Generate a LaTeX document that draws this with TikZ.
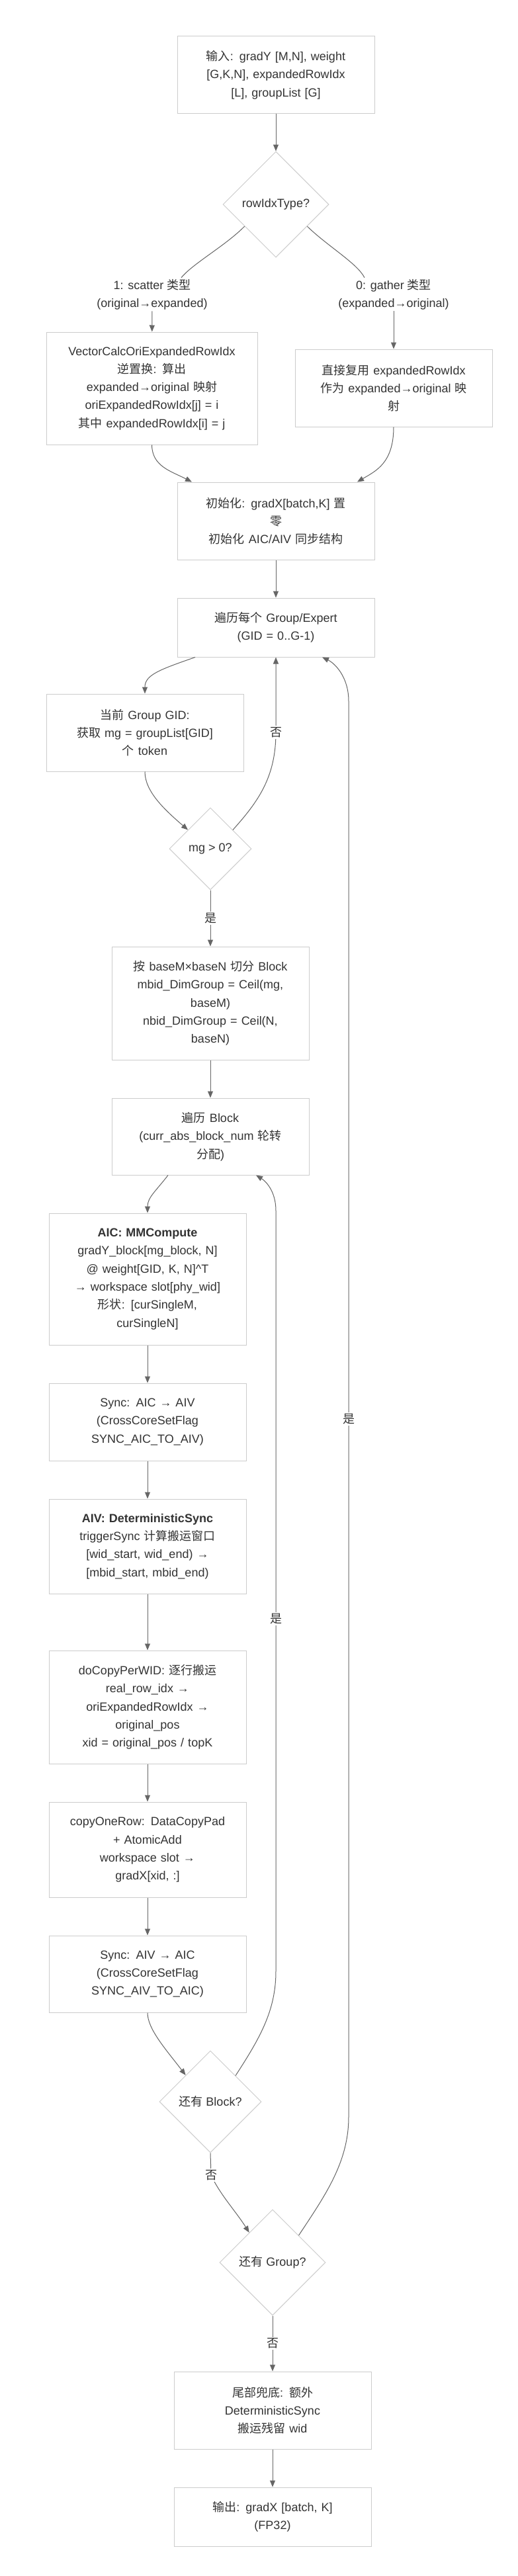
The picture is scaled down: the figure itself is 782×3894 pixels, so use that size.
\documentclass[tikz,border=0pt]{standalone}
\usepackage{fontspec}
\setmainfont{Liberation Sans}
\newfontfamily\cjk{Noto Sans CJK SC}
\usetikzlibrary{positioning, shapes.geometric, arrows.meta}
\definecolor{boxline}{HTML}{CCCCCC}
\definecolor{edgegray}{HTML}{666666}
\definecolor{txt}{HTML}{333333}

\begin{document}
\begin{tikzpicture}[x=1pt, y=-1pt, node distance=57pt, >={Triangle[length=10pt, width=8pt]},
    every node/.style={font=\fontsize{18}{27.3}\selectfont, text=txt}]
    \tikzstyle{box} = [rectangle, draw=boxline, fill=white, line width=1pt, minimum width=298pt, text width=290pt, align=center, inner sep=0pt]
    \tikzstyle{decision} = [diamond, draw=boxline, fill=white, line width=1pt, aspect=1, inner sep=0pt, align=center]
    \tikzstyle{lbl} = [fill=white, inner sep=2pt, align=center]
    \tikzstyle{arrow} = [->, draw=edgegray, line width=1pt]
    \tikzstyle{link} = [draw=edgegray, line width=1pt]

    \fill [white] (0,0) rectangle (782,3894);
    \useasboundingbox (0,0) rectangle (782,3894);

    \node (input) [box, minimum height=116pt] at (417,113) {{\cjk 输入}: gradY [M,N], weight\\{}[G,K,N], expandedRowIdx\\{}[L], groupList [G]};
    \node (rowtype) [decision, minimum size=160pt, below=of input] {rowIdxType?};

    % the two index types
    \node (lscatter) [lbl] at (230,445) {1: scatter {\cjk 类型}\\(original→expanded)};
    \node (lgather) [lbl] at (595,445) {0: gather {\cjk 类型}\\(expanded→original)};
    \node (scatter) [box, minimum width=319pt, minimum height=170pt] at (229.5,587) {VectorCalcOriExpandedRowIdx\\{\cjk 逆置换}: {\cjk 算出}\\expanded→original {\cjk 映射}\\oriExpandedRowIdx[j] = i\\{\cjk 其中} expandedRowIdx[i] = j};
    \node (gather) [box, minimum height=117pt] at (595,586.5) {{\cjk 直接复用} expandedRowIdx\\{\cjk 作为} expanded→original {\cjk 映}\\{\cjk 射}};

    \node (init) [box, minimum height=117pt] at (417,787.5) {{\cjk 初始化}: gradX[batch,K] {\cjk 置}\\{\cjk 零}\\{\cjk 初始化} AIC/AIV {\cjk 同步结构}};
    \node (grouploop) [box, minimum height=89pt, below=of init] {{\cjk 遍历每个} Group/Expert\\(GID = 0..G-1)};
    \node (curgroup) [box, minimum height=117pt] at (219,1107.5) {{\cjk 当前} Group GID:\\{\cjk 获取} mg = groupList[GID]\\{\cjk 个} token};
    \node (mgpos) [decision, minimum size=124pt] at (318,1283) {mg > 0?};
    \node (split) [box, minimum height=171pt, below=85pt of mgpos] {{\cjk 按} baseM×baseN {\cjk 切分} Block\\mbid\_DimGroup = Ceil(mg,\\baseM)\\nbid\_DimGroup = Ceil(N,\\baseN)};
    \node (blockloop) [box, minimum height=116pt, below=of split] {{\cjk 遍历} Block\\(curr\_abs\_block\_num {\cjk 轮转}\\{\cjk 分配})};

    % per block: AIC then AIV
    \node (aic) [box, minimum height=199pt, below=of blockloop, xshift=-95pt] {\textbf{AIC: MMCompute}\\gradY\_block[mg\_block, N]\\@ weight[GID, K, N]\^{}T\\→ workspace slot[phy\_wid]\\{\cjk 形状}: [curSingleM,\\curSingleN]};
    \node (sync1) [box, minimum height=117pt, below=of aic] {Sync: AIC → AIV\\(CrossCoreSetFlag\\SYNC\_AIC\_TO\_AIV)};
    \node (aiv) [box, minimum height=143pt, below=of sync1] {\textbf{AIV: DeterministicSync}\\triggerSync {\cjk 计算搬运窗口}\\{}[wid\_start, wid\_end) →\\{}[mbid\_start, mbid\_end)};
    \node (docopy) [box, minimum height=171pt, below=85pt of aiv] {doCopyPerWID: {\cjk 逐行搬运}\\real\_row\_idx →\\oriExpandedRowIdx →\\original\_pos\\xid = original\_pos / topK};
    \node (copyrow) [box, minimum height=144pt, below=of docopy] {copyOneRow: DataCopyPad\\+ AtomicAdd\\workspace slot →\\gradX[xid, :]};
    \node (sync2) [box, minimum height=116pt, below=of copyrow] {Sync: AIV → AIC\\(CrossCoreSetFlag\\SYNC\_AIV\_TO\_AIC)};
    \node (moreblock) [decision, minimum size=154pt, below=of sync2, xshift=95pt] {{\cjk 还有} Block?};
    \node (moregroup) [decision, minimum size=160pt, below=85pt of moreblock, xshift=94pt] {{\cjk 还有} Group?};
    \node (tail) [box, minimum height=117pt, below=84pt of moregroup] {{\cjk 尾部兜底}: {\cjk 额外}\\DeterministicSync\\{\cjk 搬运残留} wid};
    \node (output) [box, minimum height=89pt, below=of tail] {{\cjk 输出}: gradX [batch, K]\\(FP32)};

    \draw [arrow] (input) -- (rowtype);
    \draw [link] (rowtype.215) .. controls (340,372) and (292,398) .. ([xshift=44pt]lscatter.north);
    \draw [arrow] (lscatter) -- (scatter);
    \draw [link] (rowtype.-35) .. controls (495,372) and (540,398) .. ([xshift=-44pt]lgather.north);
    \draw [arrow] (lgather) -- (gather);
    \draw [arrow] (scatter.south) .. controls (230,705) and (258,712) .. ([xshift=-127pt]init.north);
    \draw [arrow] (gather.south) .. controls (595,700) and (568,712) .. ([xshift=123pt]init.north);
    \draw [arrow] (init) -- (grouploop);
    \draw [arrow] ([xshift=-122pt]grouploop.south) .. controls (242,1012) and (219,1020) .. (curgroup.north);
    \draw [arrow] (curgroup.south) .. controls (219,1197) and (250,1225) .. (mgpos.140);
    \draw [arrow] (mgpos.40) .. controls (390,1212) and (417,1175) .. (417,1107) node [lbl] {\cjk 否} -- (grouploop);
    \draw [arrow] (mgpos) -- node [lbl] {\cjk 是} (split);
    \draw [arrow] (split) -- (blockloop);
    \draw [arrow] ([xshift=-64pt]blockloop.south) .. controls (236,1800) and (223,1810) .. (aic.north);
    \draw [arrow] (aic) -- (sync1);
    \draw [arrow] (sync1) -- (aiv);
    \draw [arrow] (aiv) -- (docopy);
    \draw [arrow] (docopy) -- (copyrow);
    \draw [arrow] (copyrow) -- (sync2);
    \draw [arrow] (sync2.south) .. controls (223,3067) and (250,3097) .. (moreblock.133);
    \draw [arrow] (moreblock.46) .. controls (392,3082) and (417,3040) .. (417,2980) -- (417,2447) node [lbl] {\cjk 是} -- (417,1830) .. controls (417,1800) and (401,1785) .. ([xshift=69pt]blockloop.south);
    \draw [arrow] (moreblock.south) -- (319,3288) node [lbl] {\cjk 否} .. controls (333,3318) and (356,3342) .. (moregroup.128);
    \draw [arrow] (moregroup.46) .. controls (492,3318) and (527,3268) .. (527,3200) -- (527,2145) node [lbl] {\cjk 是} -- (527,1060) .. controls (527,1022) and (505,1002) .. ([xshift=70pt]grouploop.south);
    \draw [arrow] (moregroup) -- node [lbl] {\cjk 否} (tail);
    \draw [arrow] (tail) -- (output);

\end{tikzpicture}
\end{document}
